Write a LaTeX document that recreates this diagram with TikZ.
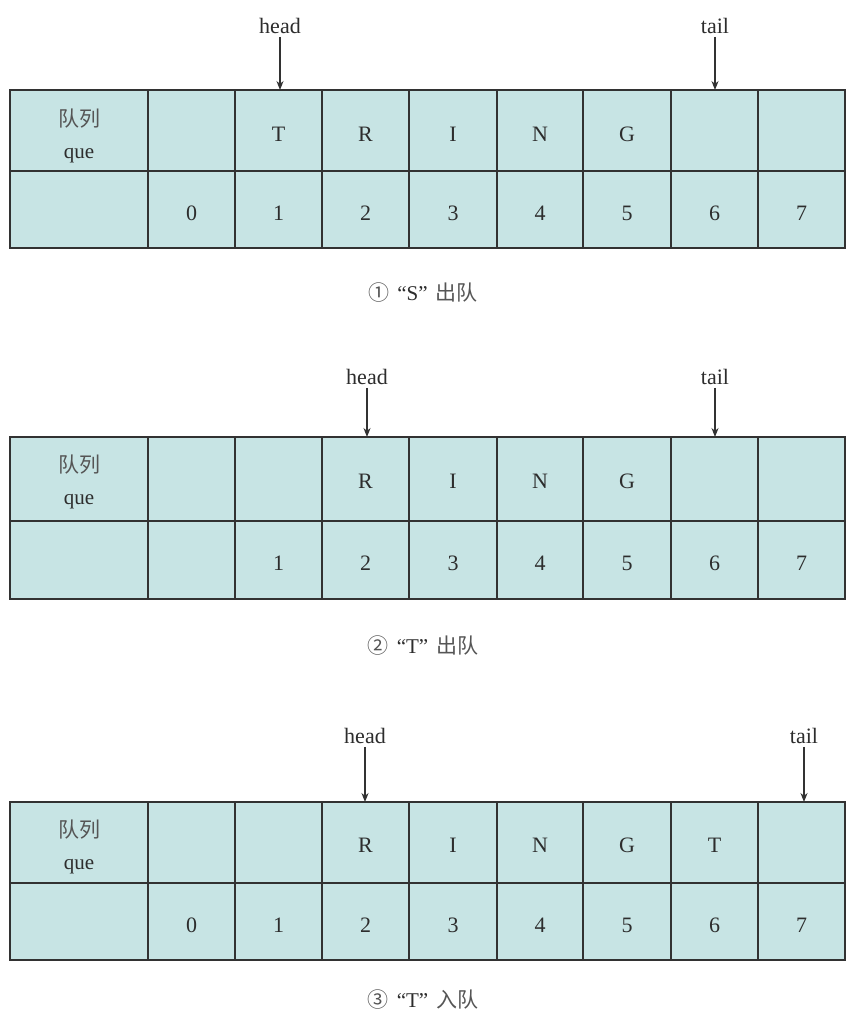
\documentclass[tikz,border=0pt]{standalone}
\usepackage{fontspec}
\setmainfont{Liberation Serif}
\newfontfamily\cjk{Noto Sans CJK SC}
\usetikzlibrary{arrows.meta}
\definecolor{cellfill}{RGB}{199,228,228}
\definecolor{linec}{RGB}{50,50,50}
\definecolor{txtc}{RGB}{45,45,45}
\definecolor{cjkc}{RGB}{85,85,85}
\tikzset{
  gridline/.style={draw=linec,line width=2pt},
  celltxt/.style={text=txtc,font=\fontsize{22}{26}\selectfont,inner sep=1pt},
  quetxt/.style={text=txtc,align=center,font=\fontsize{21}{32}\selectfont,inner sep=1pt},
  ptrtxt/.style={text=txtc,font=\fontsize{22}{26}\selectfont,inner sep=3pt},
  ptrarrow/.style={draw=linec,line width=1.3pt,-{Stealth[length=9pt,width=7pt]}},
  captxt/.style={text=txtc,font=\fontsize{21}{25}\selectfont},
}
\newcommand{\qgrid}[3]{%
  \fill[cellfill] (10,#1) rectangle (845,#3);
  \foreach \xx in {10,148,235,322,409,497,583,671,758,845}
    \draw[gridline] (\xx,#1) -- (\xx,#3);
  \draw[gridline] (9,#1) -- (846,#1);
  \draw[gridline] (9,#2) -- (846,#2);
  \draw[gridline] (9,#3) -- (846,#3);
}
\newcommand{\qcap}[3]{{\cjk\color{cjkc}#1}\hspace{8pt}“#2”\hspace{8pt}{\cjk\color{cjkc}#3}}
\begin{document}
\begin{tikzpicture}[x=1pt,y=-1pt]
\useasboundingbox[fill=white] (0,0) rectangle (847,1025);

% ---------- Table 1 ----------
\qgrid{90}{171}{248}
\node[quetxt] (q1) at (79,136) {{\cjk\color{cjkc}队列}\\que};
\node[celltxt] (a1c2) at (278.5,134) {T};
\node[celltxt] (a1c3) at (365.5,134) {R};
\node[celltxt] (a1c4) at (453,134) {I};
\node[celltxt] (a1c5) at (540,134) {N};
\node[celltxt] (a1c6) at (627,134) {G};
\foreach \xx/\n/\t in {191.5/1/0,278.5/2/1,365.5/3/2,453/4/3,540/5/4,627/6/5,714.5/7/6,801.5/8/7}
  \node[celltxt] (i1c\n) at (\xx,213) {\t};
\node[ptrtxt] (h1) at (280,26) {head};
\coordinate (h1e) at (280,90);
\draw[ptrarrow] (h1) -- (h1e);
\node[ptrtxt] (t1) at (715,26) {tail};
\coordinate (t1e) at (715,90);
\draw[ptrarrow] (t1) -- (t1e);
\node[captxt] (cap1) at (423,293) {\qcap{①}{S}{出队}};

% ---------- Table 2 ----------
\qgrid{437}{521}{599}
\node[quetxt] (q2) at (79,482) {{\cjk\color{cjkc}队列}\\que};
\node[celltxt] (a2c3) at (365.5,481) {R};
\node[celltxt] (a2c4) at (453,481) {I};
\node[celltxt] (a2c5) at (540,481) {N};
\node[celltxt] (a2c6) at (627,481) {G};
\foreach \xx/\n/\t in {278.5/2/1,365.5/3/2,453/4/3,540/5/4,627/6/5,714.5/7/6,801.5/8/7}
  \node[celltxt] (i2c\n) at (\xx,563) {\t};
\node[ptrtxt] (h2) at (367,377) {head};
\coordinate (h2e) at (367,437);
\draw[ptrarrow] (h2) -- (h2e);
\node[ptrtxt] (t2) at (715,377) {tail};
\coordinate (t2e) at (715,437);
\draw[ptrarrow] (t2) -- (t2e);
\node[captxt] (cap2) at (423,646) {\qcap{②}{T}{出队}};

% ---------- Table 3 ----------
\qgrid{802}{883}{960}
\node[quetxt] (q3) at (79,847) {{\cjk\color{cjkc}队列}\\que};
\node[celltxt] (a3c3) at (365.5,845) {R};
\node[celltxt] (a3c4) at (453,845) {I};
\node[celltxt] (a3c5) at (540,845) {N};
\node[celltxt] (a3c6) at (627,845) {G};
\node[celltxt] (a3c7) at (714.5,845) {T};
\foreach \xx/\n/\t in {191.5/1/0,278.5/2/1,365.5/3/2,453/4/3,540/5/4,627/6/5,714.5/7/6,801.5/8/7}
  \node[celltxt] (i3c\n) at (\xx,925) {\t};
\node[ptrtxt] (h3) at (365,736) {head};
\coordinate (h3e) at (365,802);
\draw[ptrarrow] (h3) -- (h3e);
\node[ptrtxt] (t3) at (804,736) {tail};
\coordinate (t3e) at (804,802);
\draw[ptrarrow] (t3) -- (t3e);
\node[captxt] (cap3) at (423,1000) {\qcap{③}{T}{入队}};
\end{tikzpicture}
\end{document}
